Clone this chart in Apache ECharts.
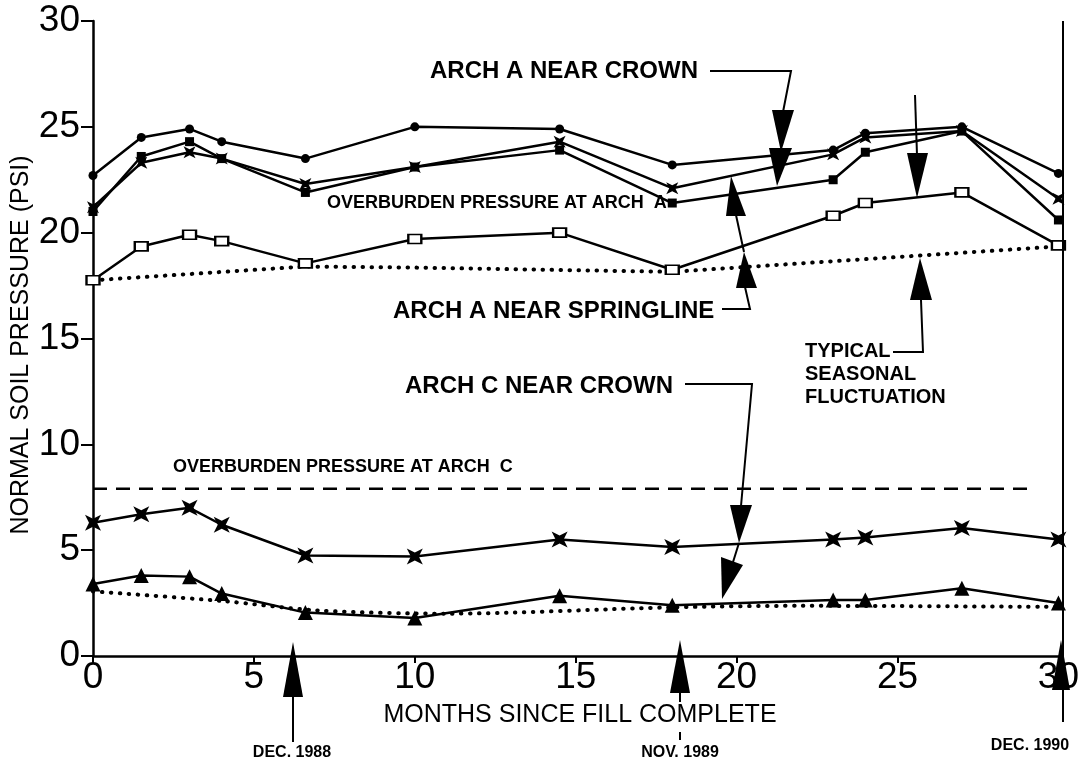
<!DOCTYPE html>
<html>
<head>
<meta charset="utf-8">
<script src="https://cdn.jsdelivr.net/npm/echarts@6/dist/echarts.min.js"></script>
<style>
html,body{margin:0;padding:0;background:#fff;}
#chart{width:1082px;height:763px;}
</style>
</head>
<body>
<div id="chart"></div>
<script>
// ---- data ----
var months = [0, 1.5, 3, 4, 6.6, 10, 14.5, 18, 23, 24, 27, 30];
var archACrownCircle = [22.7, 24.5, 24.9, 24.3, 23.5, 25.0, 24.9, 23.2, 23.9, 24.7, 25.0, 22.8];
var archACrownStar   = [21.2, 23.3, 23.8, 23.5, 22.3, 23.1, 24.3, 22.1, 23.7, 24.5, 24.8, 21.6];
var archASpringSquare= [21.0, 23.6, 24.3, 23.5, 21.9, 23.1, 23.9, 21.4, 22.5, 23.8, 24.8, 20.6];
var archASpringOpen  = [17.75, 19.35, 19.9, 19.6, 18.55, 19.7, 20.0, 18.25, 20.8, 21.4, 21.9, 19.4];
var archCCrownBowtie = [6.3, 6.7, 7.0, 6.2, 4.75, 4.7, 5.5, 5.15, 5.5, 5.6, 6.05, 5.5];
var archCCrownTri    = [3.4, 3.8, 3.75, 2.95, 2.05, 1.8, 2.85, 2.4, 2.65, 2.65, 3.2, 2.5];
var overA_x = [0, 6.6, 10, 18, 30];
var overA_y = [17.75, 18.4, 18.35, 18.15, 19.35];
var overC_x = [0, 29.1];
var overC_y = [7.9, 7.9];
var lowDot_x = [0, 4, 7, 11, 18, 22, 30];
var lowDot_y = [3.05, 2.6, 2.15, 2.0, 2.3, 2.37, 2.32];
var xTicks = [0, 5, 10, 15, 20, 25, 30];
var yTicks = [0, 5, 10, 15, 20, 25, 30];

function pairs(xs, ys){ return xs.map(function(x,i){ return [x, ys[i]]; }); }

var starPath = 'path://M0,0 L10,5 L20,0 L15,10 L20,20 L10,15 L0,20 L5,10 Z';
var black = '#000';
var FONT = 'Liberation Sans, Arial, sans-serif';

function dataLine(name, ys, symbol, size, fill){
  return {
    name: name, type: 'line', data: pairs(months, ys),
    symbol: symbol, symbolSize: size, showSymbol: true,
    lineStyle: {color: black, width: 2.5},
    itemStyle: {color: fill || black, borderColor: black, borderWidth: fill ? 2 : 0},
    z: 3, silent: true, animation: false
  };
}

var chart = echarts.init(document.getElementById('chart'), null, {renderer: 'canvas'});

function tri(p){ return {type:'polygon', shape:{points:p}, style:{fill:black}, z:10}; }
function pl(p, w){ return {type:'polyline', shape:{points:p}, style:{stroke:black, lineWidth:w||2, fill:null}, z:10}; }
function txt(x, y, s, size, weight, align){
  return {type:'text', x:x, y:y, style:{text:s, font:(weight||'bold')+' '+size+'px '+FONT, fill:black, textAlign:align||'left', textVerticalAlign:'middle'}, z:10};
}

var option = {
  backgroundColor: '#fff',
  animation: false,
  grid: {left: 93, right: 19, top: 21, bottom: 107, containLabel: false},
  xAxis: {
    type: 'value', min: 0, max: 30, interval: 5,
    axisLine: {show: true, onZero: false, lineStyle: {color: black, width: 2.5}},
    axisTick: {show: true, length: 7, lineStyle: {color: black, width: 2}},
    axisLabel: {color: black, fontSize: 37, fontFamily: FONT, margin: 3,
      formatter: function(v){ return xTicks.indexOf(v) >= 0 ? String(v) : ''; }},
    splitLine: {show: false}
  },
  yAxis: {
    type: 'value', min: 0, max: 30, interval: 5,
    axisLine: {show: true, lineStyle: {color: black, width: 2.5}},
    axisTick: {show: true, length: 12, lineStyle: {color: black, width: 2}},
    axisLabel: {color: black, fontSize: 37, fontFamily: FONT, margin: 13,
      formatter: function(v){ return yTicks.indexOf(v) >= 0 ? String(v) : ''; }},
    splitLine: {show: false}
  },
  series: [
    {
      name: 'Overburden A', type: 'line', data: pairs(overA_x, overA_y), symbol: 'none',
      lineStyle: {color: black, width: 4, type: [0.5, 8.5], cap: 'round'}, z: 2, silent: true
    },
    {
      name: 'Overburden C', type: 'line', data: pairs(overC_x, overC_y), symbol: 'none',
      lineStyle: {color: black, width: 2.5, type: [14, 9]}, z: 2, silent: true
    },
    {
      name: 'Lower dotted', type: 'line', data: pairs(lowDot_x, lowDot_y), symbol: 'none', smooth: 0.3,
      lineStyle: {color: black, width: 4, type: [0.5, 8.5], cap: 'round'}, z: 2, silent: true
    },
    dataLine('Arch A crown (circle)', archACrownCircle, 'circle', 9),
    dataLine('Arch A crown (star)', archACrownStar, starPath, 12),
    dataLine('Arch A springline (square)', archASpringSquare, 'rect', 9),
    dataLine('Arch A springline (open)', archASpringOpen, 'rect', [13, 9], '#fff'),
    dataLine('Arch C crown (bowtie)', archCCrownBowtie, starPath, 16),
    dataLine('Arch C crown (triangle)', archCCrownTri, 'triangle', 15)
  ],
  graphic: [
    // right frame line
    pl([[1063, 21], [1063, 722]], 2),
    // axis titles
    {type:'text', x: 21, y: 345, rotation: Math.PI/2,
      style:{text:'NORMAL SOIL PRESSURE (PSI)', font:'normal 25px '+FONT, fill:black, textAlign:'center', textVerticalAlign:'middle'}, z:10},
    txt(580, 715, 'MONTHS SINCE FILL COMPLETE', 25, 'normal', 'center'),
    // ARCH A NEAR CROWN
    txt(430, 71, 'ARCH A NEAR CROWN', 24),
    pl([[710, 71], [791, 71], [783, 112]]),
    tri([[772,110],[794,110],[781,152]]),
    tri([[769,148],[792,148],[777,186]]),
    // OVERBURDEN A
    txt(327, 203, 'OVERBURDEN PRESSURE AT ARCH  A', 18),
    // ARCH A NEAR SPRINGLINE
    txt(393, 311, 'ARCH A NEAR SPRINGLINE', 24),
    pl([[722, 309], [750, 309], [745, 287]]),
    tri([[736,288],[757,288],[744,252]]),
    pl([[744, 252], [736, 215]]),
    tri([[726,216],[746,216],[731,176]]),
    // TYPICAL SEASONAL FLUCTUATION
    txt(805, 351, 'TYPICAL', 20),
    txt(805, 374, 'SEASONAL', 20),
    txt(805, 397, 'FLUCTUATION', 20),
    pl([[893, 352], [923, 352], [921, 300]]),
    tri([[910,300],[932,300],[920,258]]),
    pl([[915, 95], [917, 155]]),
    tri([[907,153],[928,153],[917,198]]),
    // ARCH C NEAR CROWN
    txt(405, 386, 'ARCH C NEAR CROWN', 24),
    pl([[685, 384], [752, 384], [741, 506]]),
    tri([[730,505],[752,505],[739,543]]),
    pl([[739, 543], [733, 562]]),
    tri([[721,557],[743,565],[722,599]]),
    // OVERBURDEN C
    txt(173, 467, 'OVERBURDEN PRESSURE AT ARCH  C', 18),
    // date arrows
    tri([[283,697],[303,697],[293,642]]),
    pl([[293, 697], [293, 742]]),
    txt(292, 753, 'DEC. 1988', 16, 'bold', 'center'),
    tri([[670,693],[690,693],[680,640]]),
    pl([[680, 693], [680, 702]]),
    pl([[680, 732], [680, 740]]),
    txt(680, 753, 'NOV. 1989', 16, 'bold', 'center'),
    tri([[1052,690],[1070,690],[1061,640]]),
    txt(1030, 746, 'DEC. 1990', 16, 'bold', 'center')
  ]
};
chart.setOption(option);
</script>
</body>
</html>
